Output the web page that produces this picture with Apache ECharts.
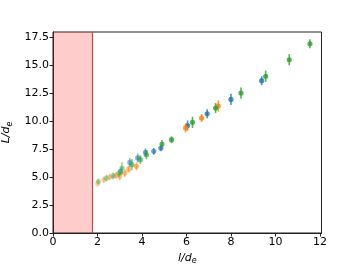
<!DOCTYPE html>
<html><head><meta charset="utf-8">
<script src="https://cdn.jsdelivr.net/npm/echarts@6/dist/echarts.min.js"></script>
<style>html,body{margin:0;padding:0;background:#fff}#c{width:357px;height:268px}</style>
</head><body><div id="c"></div>
<script>
const xTicks = [0, 2, 4, 6, 8, 10, 12];
const yTicks = [0, 2.5, 5, 7.5, 10, 12.5, 15, 17.5];
const shadeLimit = 1.75;

const blueX = [3.05, 3.45, 3.81, 4.16, 4.53, 4.85, 6.05, 6.93, 8.0, 9.38];
const blueY = [5.5, 6.3, 6.7, 7.2, 7.29, 7.59, 9.6, 10.65, 11.93, 13.6];
const blueErr = [0.35, 0.4, 0.4, 0.35, 0.3, 0.3, 0.45, 0.4, 0.5, 0.4];

const orangeX = [2.0, 2.28, 2.55, 2.83, 3.0, 3.23, 3.4, 3.75, 5.96, 6.68, 7.43];
const orangeY = [4.45, 4.75, 5.0, 5.15, 5.05, 5.36, 5.7, 5.95, 9.38, 10.27, 11.34];
const orangeErr = [0.35, 0.3, 0.3, 0.3, 0.35, 0.35, 0.3, 0.35, 0.4, 0.35, 0.5];

const greenX = [2.05, 2.4, 2.7, 2.96, 3.1, 3.55, 3.93, 4.2, 4.9, 5.33, 6.27, 7.31, 8.45, 9.56, 10.62, 11.55];
const greenY = [4.6, 4.9, 5.1, 5.35, 5.8, 6.1, 6.55, 6.99, 7.95, 8.33, 9.88, 11.16, 12.5, 14.0, 15.47, 16.9];
const greenErr = [0.3, 0.3, 0.3, 0.35, 0.55, 0.5, 0.4, 0.4, 0.35, 0.3, 0.5, 0.45, 0.5, 0.5, 0.5, 0.4];

function mk(xs, ys, es) { return xs.map((x, i) => [x, ys[i], es[i]]); }

function renderErr(color) {
  return function (params, api) {
    const x = api.value(0), y = api.value(1), e = api.value(2);
    const p = api.coord([x, y]);
    const lo = api.coord([x, y - e]);
    const hi = api.coord([x, y + e]);
    const op = Math.min(0.8, 0.3 + 0.15 * (x - 2));
    return {
      type: 'group',
      children: [
        { type: 'line', shape: { x1: lo[0], y1: lo[1], x2: hi[0], y2: hi[1] },
          style: { stroke: color, lineWidth: 1.6, opacity: op } },
        { type: 'circle', shape: { cx: p[0], cy: p[1], r: 2.6 },
          style: { fill: color, opacity: op } }
      ]
    };
  };
}

const chart = echarts.init(document.getElementById('c'), null, { renderer: 'canvas' });
const lbl = { fontFamily: 'DejaVu Sans', fontSize: 11, color: '#000' };
const nameRich = {
  i: { fontFamily: 'DejaVu Sans', fontStyle: 'italic', fontSize: 11, color: '#000' },
  s: { fontFamily: 'DejaVu Sans', fontStyle: 'italic', fontSize: 8, color: '#000', verticalAlign: 'bottom', padding: [6, 0, 0, 0] }
};
chart.setOption({
  animation: false,
  grid: { left: 53, right: 35.5, top: 32, bottom: 35, containLabel: false, outerBoundsMode: 'none', show: true, borderColor: '#222', borderWidth: 1, backgroundColor: 'transparent' },
  xAxis: {
    type: 'value', min: 0, max: 12.07,
    splitLine: { show: false },
    axisLine: { show: true, onZero: false, lineStyle: { color: '#222', width: 1 } },
    axisTick: { show: true, length: 3.5, customValues: xTicks, lineStyle: { color: '#222' } },
    axisLabel: Object.assign({ customValues: xTicks, margin: 4, formatter: v => String(v) }, lbl),
    name: '{i|l/d}{s|e}', nameLocation: 'middle', nameGap: 18,
    nameTextStyle: { rich: nameRich }
  },
  yAxis: {
    type: 'value', min: 0, max: 17.95,
    splitLine: { show: false },
    axisLine: { show: true, onZero: false, lineStyle: { color: '#222', width: 1 } },
    axisTick: { show: true, length: 3.5, customValues: yTicks, lineStyle: { color: '#222' } },
    axisLabel: Object.assign({ customValues: yTicks, margin: 4, formatter: v => v.toFixed(1) }, lbl),
    name: '{i|L/d}{s|e}', nameLocation: 'middle', nameGap: 30, nameRotate: 90,
    nameTextStyle: { rich: nameRich }
  },
  series: [
    {
      type: 'line', data: [], silent: true,
      markArea: { silent: true, itemStyle: { color: 'rgba(255,0,0,0.2)' }, data: [[{ xAxis: 0 }, { xAxis: shadeLimit }]] },
      markLine: { silent: true, symbol: 'none', label: { show: false }, lineStyle: { color: '#b94a48', width: 1.2, type: 'solid' }, data: [{ xAxis: shadeLimit }] }
    },
    { type: 'custom', renderItem: renderErr('#1f77b4'), data: mk(blueX, blueY, blueErr), encode: { x: 0, y: 1 } },
    { type: 'custom', renderItem: renderErr('#ff7f0e'), data: mk(orangeX, orangeY, orangeErr), encode: { x: 0, y: 1 } },
    { type: 'custom', renderItem: renderErr('#2ca02c'), data: mk(greenX, greenY, greenErr), encode: { x: 0, y: 1 } }
  ]
});
</script></body></html>
